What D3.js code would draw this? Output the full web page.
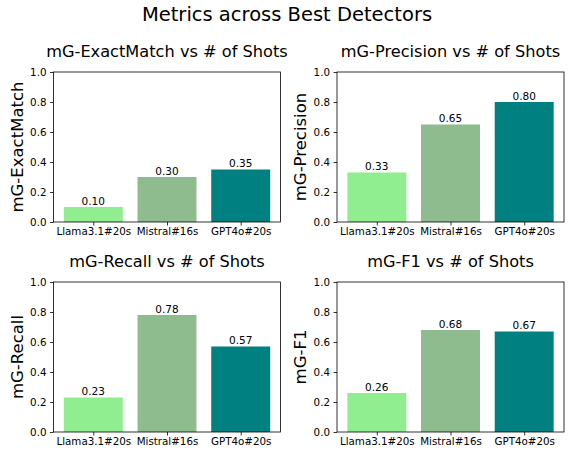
<!DOCTYPE html>
<html><head><meta charset="utf-8">
<script src="https://cdn.jsdelivr.net/npm/d3@7"></script>
<style>body{margin:0;background:#fff}svg{font-family:"DejaVu Sans",sans-serif}</style>
</head><body><svg id="c" width="571" height="450"></svg>
<script>
const categories = ["Llama3.1#20s", "Mistral#16s", "GPT4o#20s"];
const colors = ["#90EE90", "#8FBC8F", "#008080"];
const metrics = ["mG-ExactMatch", "mG-Precision", "mG-Recall", "mG-F1"];
const exactMatch = [0.10, 0.30, 0.35];
const precision = [0.33, 0.65, 0.80];
const recall = [0.23, 0.78, 0.57];
const f1 = [0.26, 0.68, 0.67];
const yTicks = [0.0, 0.2, 0.4, 0.6, 0.8, 1.0];
const seriesList = [exactMatch, precision, recall, f1];

const svg = d3.select("#c");
svg.append("text").attr("x", 287).attr("y", 21).attr("text-anchor", "middle")
  .attr("font-size", 19.5).text("Metrics across Best Detectors");

const panels = [
  {x0: 53.5, x1: 280.5, y0: 72, y1: 222},
  {x0: 337, x1: 564, y0: 72, y1: 222},
  {x0: 53.5, x1: 280.5, y0: 282, y1: 432},
  {x0: 337, x1: 564, y0: 282, y1: 432}
];

panels.forEach((p, i) => {
  const vals = seriesList[i];
  const x = d3.scaleLinear().domain([-0.54, 2.54]).range([p.x0, p.x1]);
  const y = d3.scaleLinear().domain([0, 1]).range([p.y1, p.y0]);
  const g = svg.append("g");
  const bw = x(0.8) - x(0);
  g.selectAll("rect.bar").data(vals).join("rect")
    .attr("x", (d, j) => x(j - 0.4)).attr("width", bw)
    .attr("y", d => y(d)).attr("height", d => y(0) - y(d))
    .attr("fill", (d, j) => colors[j]);
  g.selectAll("text.val").data(vals).join("text")
    .attr("x", (d, j) => x(j)).attr("y", d => y(d) - 2.5)
    .attr("text-anchor", "middle").attr("font-size", 10.5).attr("fill", "#000")
    .text(d => d.toFixed(2));
  const ya = d3.axisLeft(y).tickValues(yTicks).tickFormat(d3.format(".1f")).tickSize(3.5).tickPadding(3.5);
  const yg = g.append("g").attr("transform", `translate(${p.x0},0)`).call(ya);
  const xa = d3.axisBottom(x).tickValues([0, 1, 2]).tickFormat(j => categories[j]).tickSize(3.5).tickPadding(2.5);
  const xg = g.append("g").attr("transform", `translate(0,${p.y1})`).call(xa);
  [yg, xg].forEach(a => {
    a.select(".domain").remove();
    a.selectAll("text").attr("font-size", 10.3).attr("fill", "#000").attr("font-family", "DejaVu Sans");
    a.selectAll("line").attr("stroke", "#000").attr("stroke-width", 0.8);
  });
  g.append("rect").attr("x", p.x0).attr("y", p.y0).attr("width", p.x1 - p.x0).attr("height", p.y1 - p.y0)
    .attr("fill", "none").attr("stroke", "#000").attr("stroke-width", 0.8);
  g.append("text").attr("x", (p.x0 + p.x1) / 2).attr("y", p.y0 - 15).attr("text-anchor", "middle")
    .attr("font-size", 16.2).text(metrics[i] + " vs # of Shots");
  g.append("text").attr("transform", `translate(${p.x0 - 31},${(p.y0 + p.y1) / 2}) rotate(-90)`)
    .attr("text-anchor", "middle").attr("font-size", 16.5).text(metrics[i]);
});
</script></body></html>
